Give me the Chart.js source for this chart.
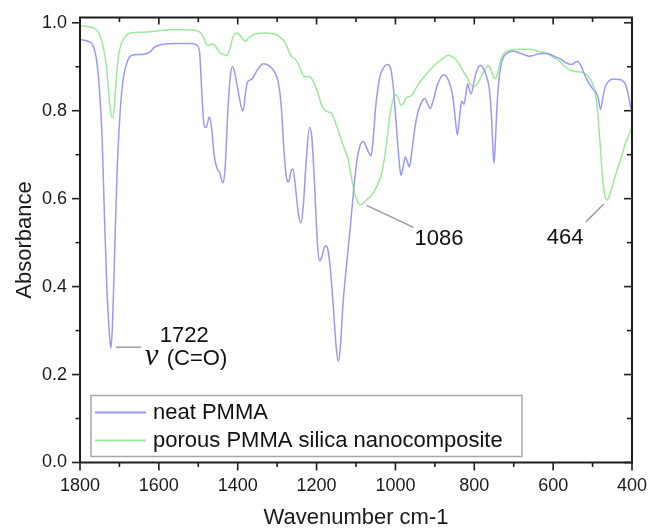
<!DOCTYPE html>
<html>
<head>
<meta charset="utf-8">
<script src="https://cdn.jsdelivr.net/npm/chart.js@4/dist/chart.umd.min.js"></script>
<style>
  html, body { margin: 0; padding: 0; background: #ffffff; }
  #wrap { width: 649px; height: 529px; }
</style>
</head>
<body>
<div id="wrap"><canvas id="c" width="649" height="529"></canvas></div>
<script>
// ---------- data ----------
const seriesNames = ['neat PMMA', 'porous PMMA silica nanocomposite'];

const neatWavenumber = [1800,1780,1768,1758,1750,1744,1738,1732,1726,1722,1718,1713,1706,1698,1690,1680,1668,1645,1625,1610,1595,1560,1520,1505,1497,1491,1485,1480,1472,1466,1460,1452,1446,1438,1432,1425,1418,1413,1406,1398,1390,1386,1381,1376,1364,1350,1335,1320,1308,1298,1290,1282,1276,1271,1265,1260,1254,1246,1240,1234,1226,1218,1212,1205,1198,1192,1186,1178,1172,1165,1158,1150,1145,1140,1133,1124,1115,1106,1098,1090,1082,1075,1068,1062,1057,1050,1040,1030,1020,1012,1005,998,990,986,981,975,970,965,958,950,942,930,925,918,912,905,895,885,878,870,862,855,848,843,838,832,826,821,817,813,808,800,793,785,776,768,762,756,752,750,747,743,738,732,726,715,700,690,675,660,650,630,616,600,582,565,552,545,538,530,523,514,506,498,492,486,480,474,468,458,447,435,425,418,413,408,404,400];
const neatAbsorbance = [0.962,0.958,0.950,0.915,0.840,0.740,0.560,0.400,0.300,0.260,0.305,0.450,0.660,0.800,0.875,0.912,0.926,0.928,0.932,0.945,0.950,0.953,0.953,0.950,0.935,0.840,0.765,0.762,0.786,0.760,0.700,0.668,0.660,0.636,0.670,0.800,0.885,0.900,0.880,0.840,0.805,0.800,0.835,0.864,0.872,0.893,0.907,0.902,0.890,0.868,0.815,0.700,0.645,0.638,0.662,0.668,0.630,0.565,0.545,0.580,0.690,0.762,0.740,0.630,0.500,0.458,0.470,0.493,0.487,0.440,0.360,0.260,0.230,0.260,0.360,0.450,0.530,0.620,0.685,0.720,0.730,0.720,0.705,0.697,0.730,0.810,0.875,0.898,0.905,0.895,0.850,0.770,0.680,0.653,0.670,0.695,0.685,0.672,0.710,0.765,0.800,0.825,0.828,0.815,0.805,0.820,0.855,0.876,0.882,0.877,0.860,0.835,0.780,0.745,0.780,0.822,0.815,0.840,0.862,0.850,0.838,0.870,0.893,0.903,0.895,0.875,0.850,0.780,0.700,0.680,0.720,0.800,0.866,0.905,0.922,0.932,0.935,0.933,0.928,0.924,0.926,0.930,0.930,0.925,0.918,0.908,0.905,0.910,0.912,0.903,0.888,0.870,0.858,0.848,0.843,0.830,0.803,0.830,0.854,0.868,0.872,0.871,0.869,0.862,0.850,0.830,0.809,0.800];

const compWavenumber = [1800,1780,1765,1755,1748,1740,1733,1727,1722,1718,1714,1709,1703,1697,1688,1678,1660,1630,1600,1570,1530,1508,1495,1487,1480,1475,1468,1462,1455,1445,1435,1428,1420,1412,1404,1395,1386,1380,1372,1362,1345,1326,1310,1300,1290,1280,1270,1263,1255,1248,1240,1232,1222,1214,1205,1195,1187,1178,1170,1163,1155,1145,1136,1128,1120,1112,1104,1096,1090,1084,1075,1065,1055,1045,1038,1030,1022,1014,1006,999,993,986,980,972,965,958,950,938,920,905,890,875,865,855,845,835,825,818,810,800,790,778,768,763,757,750,746,740,733,725,712,700,680,660,640,616,600,582,570,557,545,531,520,514,505,497,492,488,484,480,476,472,468,464,459,452,443,434,425,417,408,400];
const compAbsorbance = [0.993,0.991,0.988,0.980,0.968,0.940,0.900,0.840,0.795,0.784,0.800,0.860,0.920,0.948,0.965,0.975,0.978,0.979,0.982,0.984,0.984,0.983,0.978,0.968,0.952,0.948,0.951,0.952,0.945,0.932,0.928,0.925,0.940,0.968,0.977,0.972,0.962,0.958,0.966,0.972,0.976,0.977,0.975,0.972,0.965,0.955,0.935,0.922,0.918,0.909,0.893,0.878,0.878,0.875,0.860,0.835,0.812,0.800,0.797,0.795,0.780,0.755,0.730,0.710,0.690,0.650,0.615,0.592,0.587,0.588,0.596,0.604,0.615,0.632,0.648,0.680,0.730,0.790,0.825,0.837,0.828,0.813,0.816,0.830,0.832,0.835,0.848,0.865,0.885,0.900,0.912,0.922,0.926,0.922,0.915,0.900,0.885,0.875,0.860,0.855,0.865,0.885,0.900,0.902,0.890,0.875,0.873,0.888,0.915,0.930,0.937,0.939,0.940,0.940,0.936,0.930,0.922,0.911,0.900,0.892,0.889,0.888,0.885,0.881,0.870,0.854,0.835,0.805,0.760,0.714,0.660,0.625,0.604,0.597,0.603,0.623,0.650,0.676,0.700,0.725,0.745,0.763];

const xTickLabels = [1800,1600,1400,1200,1000,800,600,400];
const yTickLabels = [0.0,0.2,0.4,0.6,0.8,1.0];

const annotationWavenumber = [1722, 1086, 464];
const annotationAbsorbance = [0.260, 0.587, 0.597];
const annotationText = [['1722','\u03BD','(C=O)'], ['1086'], ['464']];

// ---------- styles ----------
const FONT = '"Liberation Sans", Arial, Helvetica, sans-serif';
const SERIF = '"Liberation Serif", "DejaVu Serif", serif';
const BLUE = '#9a9af6';
const GREEN = '#9de89d';

const toPoints = (xs, ys) => xs.map((x, i) => ({ x: x, y: ys[i] }));

const frameTicks = {
  id: 'frameTicks',
  afterDraw(chart) {
    const { ctx, chartArea: { left, right, top, bottom }, scales: { x, y } } = chart;
    ctx.save();
    ctx.strokeStyle = '#1e1e1e';
    ctx.lineCap = 'butt';
    const seg = (x1, y1, x2, y2) => { ctx.beginPath(); ctx.moveTo(x1, y1); ctx.lineTo(x2, y2); ctx.stroke(); };
    ctx.lineWidth = 1.6;
    for (let i = 0; i < xTickLabels.length; i++) {
      const v = xTickLabels[i];
      const px = x.getPixelForValue(v);
      seg(px, bottom, px, bottom + 8);
      seg(px, top, px, top + 7);
      if (i < xTickLabels.length - 1) {
        const m = x.getPixelForValue((v + xTickLabels[i + 1]) / 2);
        seg(m, bottom, m, bottom + 4.5);
        seg(m, top, m, top + 4.5);
      }
    }
    for (let i = 0; i < yTickLabels.length; i++) {
      const v = yTickLabels[i];
      const py = y.getPixelForValue(v);
      seg(left, py, left - 8, py);
      seg(right, py, right - 8, py);
      if (i < yTickLabels.length - 1) {
        const m = y.getPixelForValue((v + yTickLabels[i + 1]) / 2);
        seg(left, m, left - 4.5, m);
        seg(right, m, right - 5, m);
      }
    }
    ctx.lineWidth = 2;
    ctx.strokeRect(left, top, right - left, bottom - top);

    // annotations
    ctx.strokeStyle = '#9a9a9a';
    ctx.lineWidth = 1.5;
    ctx.fillStyle = '#111111';
    ctx.font = '22px ' + FONT;
    ctx.textBaseline = 'alphabetic';
    ctx.textAlign = 'left';
    const ax = annotationWavenumber.map(v => x.getPixelForValue(v));
    const ay = annotationAbsorbance.map(v => y.getPixelForValue(v));
    seg(ax[0] + 5, ay[0] - 1, ax[0] + 30, ay[0] - 1);
    ctx.fillText(annotationText[0][0], ax[0] + 49, ay[0] - 6);
    ctx.font = 'italic 31px ' + SERIF;
    ctx.fillText(annotationText[0][1], ax[0] + 34, ay[0] + 17);
    ctx.font = '22px ' + FONT;
    ctx.fillText(annotationText[0][2], ax[0] + 56, ay[0] + 17);
    seg(ax[1] + 5, ay[1] + 1, ax[1] + 52, ay[1] + 23);
    ctx.fillText(annotationText[1][0], ax[1] + 53, ay[1] + 41);
    seg(ax[2] - 3, ay[2] + 4, ax[2] - 21, ay[2] + 22);
    ctx.fillText(annotationText[2][0], ax[2] - 60, ay[2] + 44);

    // legend
    const lx = left + 11, ly = top + 378, lw = 431, lh = 61;
    ctx.fillStyle = '#ffffff';
    ctx.fillRect(lx, ly, lw, lh);
    ctx.strokeStyle = '#a8a8a8';
    ctx.lineWidth = 1.5;
    ctx.strokeRect(lx, ly, lw, lh);
    const ds = chart.data.datasets;
    for (let i = 0; i < ds.length; i++) {
      const yy = ly + 17 + i * 28;
      ctx.strokeStyle = ds[i].borderColor;
      ctx.lineWidth = 2;
      seg(lx + 4, yy, lx + 55, yy);
      ctx.fillStyle = '#111111';
      ctx.font = '22px ' + FONT;
      ctx.textBaseline = 'middle';
      ctx.fillText(ds[i].label, lx + 62, yy);
    }
    ctx.restore();
  }
};

new Chart(document.getElementById('c'), {
  type: 'line',
  data: {
    datasets: [
      { label: seriesNames[0], data: toPoints(neatWavenumber, neatAbsorbance), borderColor: BLUE, borderWidth: 1.5, pointRadius: 0, cubicInterpolationMode: 'monotone', fill: false },
      { label: seriesNames[1], data: toPoints(compWavenumber, compAbsorbance), borderColor: GREEN, borderWidth: 1.5, pointRadius: 0, cubicInterpolationMode: 'monotone', fill: false }
    ]
  },
  options: {
    responsive: false,
    devicePixelRatio: 1,
    animation: false,
    layout: { padding: { top: 17.5, right: 17, left: 0, bottom: 0 } },
    plugins: { legend: { display: false }, tooltip: { enabled: false } },
    scales: {
      x: {
        type: 'linear',
        reverse: true,
        min: 400,
        max: 1800,
        afterBuildTicks: s => { s.ticks = xTickLabels.map(v => ({ value: v })); },
        afterFit: s => { s.height = 66.5; s.paddingLeft = 0; s.paddingRight = 0; },
        grid: { display: false, drawTicks: false },
        border: { display: false },
        ticks: { color: '#1a1a1a', font: { family: FONT, size: 18 }, padding: 13, maxRotation: 0, callback: v => String(v) },
        title: { display: true, text: 'Wavenumber cm-1', color: '#1a1a1a', font: { family: FONT, size: 22, lineHeight: 1 }, padding: { top: 0, bottom: 0 } }
      },
      y: {
        type: 'linear',
        min: 0,
        max: 1.012,
        afterBuildTicks: s => { s.ticks = yTickLabels.map(v => ({ value: v })); },
        afterFit: s => { s.width = 80; s.paddingTop = 0; s.paddingBottom = 0; },
        grid: { display: false, drawTicks: false },
        border: { display: false },
        ticks: { color: '#1a1a1a', font: { family: FONT, size: 18 }, padding: 13, callback: v => Number(v).toFixed(1) },
        title: { display: true, text: 'Absorbance', color: '#1a1a1a', font: { family: FONT, size: 22, lineHeight: 1 }, padding: { top: 14, bottom: 0 } }
      }
    }
  },
  plugins: [frameTicks]
});
</script>
</body>
</html>
